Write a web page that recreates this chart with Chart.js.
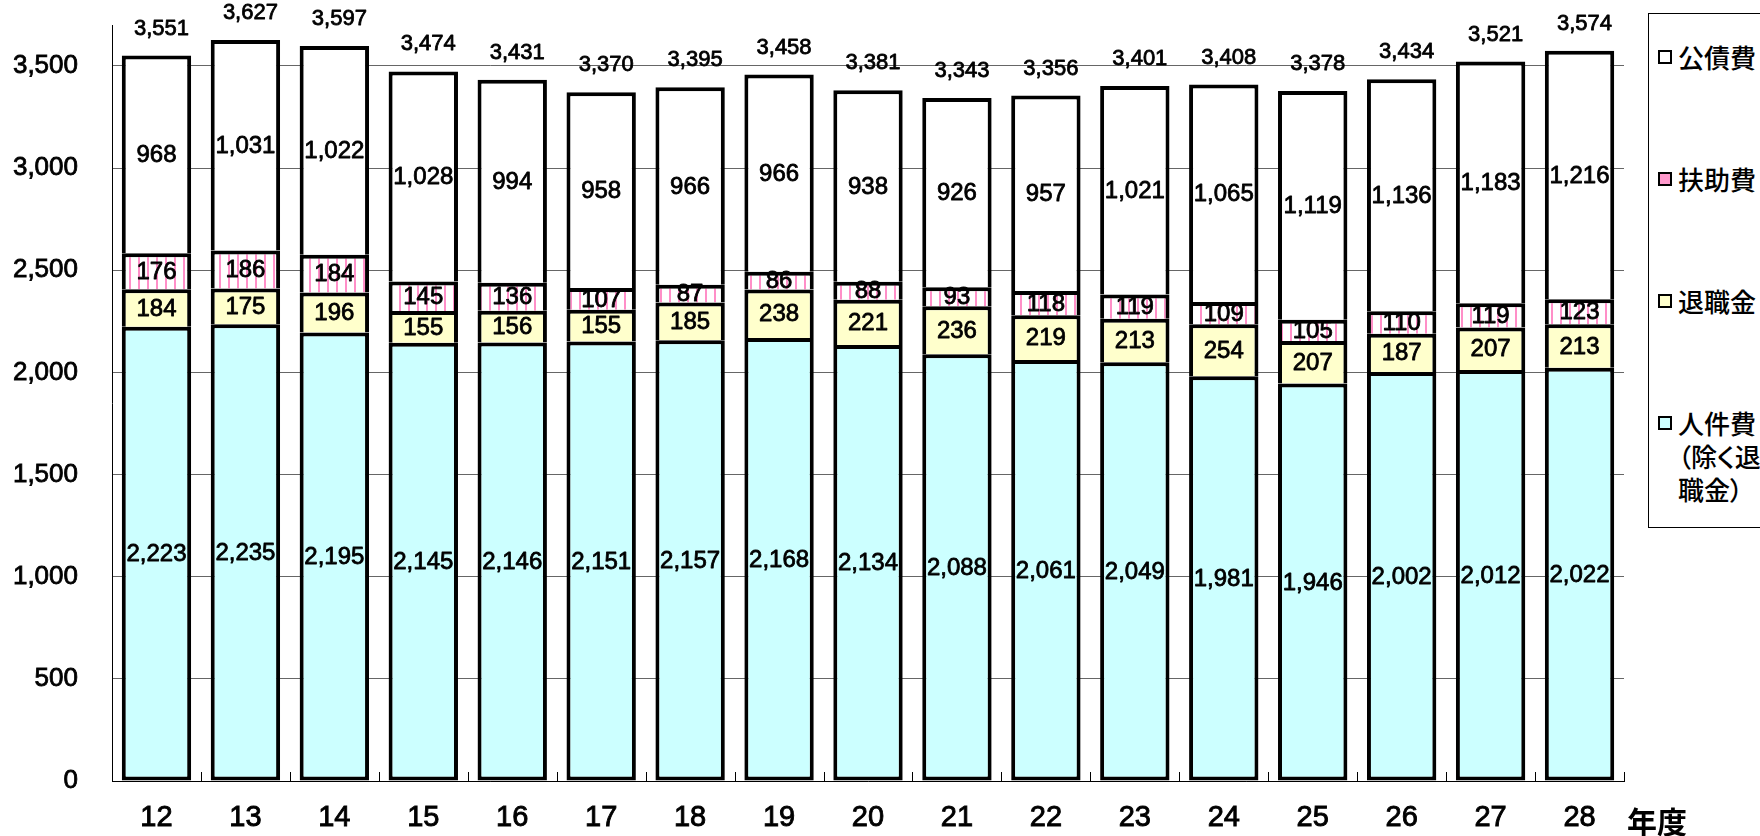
<!DOCTYPE html>
<html><head><meta charset="utf-8">
<script src="https://cdn.jsdelivr.net/npm/chart.js@4"></script>
<style>
html,body{margin:0;padding:0;background:#fff;overflow:hidden;width:1760px;height:836px}
#wrap{position:relative;width:1760px;height:836px}
#legend{position:absolute;left:1648px;top:13px;width:200px;height:513px;border:1px solid #000;background:#fff;
 font-family:"Noto Sans CJK JP",sans-serif;font-size:26px;font-weight:500;color:#000;font-feature-settings:"palt"}
.item{position:absolute;left:9px;line-height:33px}
.mk{position:absolute;left:0;top:10px;width:10px;height:10px;border:2px solid #000}
.tx{position:absolute;left:20px;top:0;white-space:nowrap}
</style>
</head><body><div id="wrap"><canvas id="c" width="1760" height="836"></canvas><div id="legend"></div></div>
<script>
const years = ['12','13','14','15','16','17','18','19','20','21','22','23','24','25','26','27','28'];
const personnel = [2223,2235,2195,2145,2146,2151,2157,2168,2134,2088,2061,2049,1981,1946,2002,2012,2022];
const retirement = [184,175,196,155,156,155,185,238,221,236,219,213,254,207,187,207,213];
const welfare = [176,186,184,145,136,107,87,86,88,93,118,119,109,105,110,119,123];
const debt = [968,1031,1022,1028,994,958,966,966,938,926,957,1021,1065,1119,1136,1183,1216];
const totals = [3551,3627,3597,3474,3431,3370,3395,3458,3381,3343,3356,3401,3408,3378,3434,3521,3574];
const yTicks = [0,500,1000,1500,2000,2500,3000,3500];
const seriesNames = ['人件費（除く退職金）','退職金','扶助費','公債費'];
const legendLines = [['人件費','（除く退','職金）'],['退職金'],['扶助費'],['公債費']];
const axisUnit = '年度';
const yMax = 3700;

const fmt = v => Number(v).toLocaleString('en-US');
const NUMFONT = '"Liberation Sans", Arial, sans-serif';

// striped pattern for 扶助費
const pc = document.createElement('canvas'); pc.width = 9; pc.height = 4;
const pctx = pc.getContext('2d');
pctx.fillStyle = '#ffffff'; pctx.fillRect(0,0,9,4);
pctx.fillStyle = '#ff8fc8'; pctx.fillRect(3,0,2,4);
const ctx = document.getElementById('c').getContext('2d');
const stripe = ctx.createPattern(pc,'repeat');

const fills = ['#ccffff','#ffffcc',stripe,'#ffffff'];
const markerFills = ['#ccffff','#ffffcc','#ff99cc','#ffffff'];
const series = [personnel,retirement,welfare,debt];

function heavyText(c, t, x, y){
  c.fillText(t, x, y);
  c.strokeText(t, x, y);
}

const labelPlugin = {
  id:'labels',
  afterDatasetsDraw(chart){
    const c = chart.ctx;
    c.save();
    c.fillStyle = '#000'; c.strokeStyle = '#000'; c.lineWidth = 0.8; c.lineJoin = 'round';
    c.textAlign = 'center'; c.textBaseline = 'middle';
    c.font = '24px ' + NUMFONT;
    chart.data.datasets.forEach((ds,di)=>{
      const meta = chart.getDatasetMeta(di);
      meta.data.forEach((el,i)=>{
        heavyText(c, fmt(ds.data[i]), el.x, (el.y + el.base)/2 + 1);
      });
    });
    const top = chart.getDatasetMeta(chart.data.datasets.length-1);
    c.font = '22px ' + NUMFONT;
    top.data.forEach((el,i)=>{
      heavyText(c, fmt(totals[i]), el.x + 5, el.y - 27);
    });
    // x axis inner tick marks at category boundaries
    const xs = chart.scales.x, ya = chart.scales.y;
    const n = chart.data.labels.length, w = (xs.right - xs.left)/n;
    c.lineWidth = 1;
    for(let i=1;i<=n;i++){
      const x = Math.round(xs.left + i*w) + 0.5;
      c.beginPath(); c.moveTo(x, ya.bottom); c.lineTo(x, ya.bottom - 9); c.stroke();
    }
    // unit label
    c.font = 'bold 30px "Noto Sans CJK JP", sans-serif';
    c.textAlign = 'left';
    c.fillText(axisUnit, xs.right + 3, xs.top + 41);
    c.restore();
  }
};

new Chart(ctx,{
  type:'bar',
  data:{labels:years,datasets:series.map((d,i)=>({
    label:seriesNames[i], data:d, backgroundColor:fills[i], borderColor:'#000', borderWidth:4,
    borderSkipped: i===0 ? false : 'bottom'
  }))},
  options:{
    responsive:false, animation:false, devicePixelRatio:1,
    layout:{padding:{left:0,right:136,top:25,bottom:0}},
    datasets:{bar:{categoryPercentage:1,barPercentage:0.78}},
    plugins:{legend:{display:false},tooltip:{enabled:false}},
    scales:{
      x:{stacked:true, grid:{display:false}, border:{display:true,color:'#000',width:1},
         ticks:{color:'#000',font:{family:NUMFONT,size:29},textStrokeColor:'#000',textStrokeWidth:0.9,padding:12,maxRotation:0},
         afterFit(s){s.height=55; s.paddingLeft=0; s.paddingRight=0;}},
      y:{stacked:true, min:0, max:yMax,
         afterBuildTicks(s){ s.ticks = yTicks.map(v=>({value:v})); },
         ticks:{color:'#000', font:{family:NUMFONT,size:26}, textStrokeColor:'#000',textStrokeWidth:0.8, padding:34,
                callback:v=>fmt(v)},
         grid:{color:'#666',drawTicks:false}, border:{display:true,color:'#000',width:1},
         afterFit(s){s.width=112; s.paddingTop=0; s.paddingBottom=0;}}
    }
  },
  plugins:[labelPlugin]
});

// legend (reverse order, top = 公債費)
const lg = document.getElementById('legend');
for(let k=0;k<4;k++){
  const di = 3-k;
  const it = document.createElement('div'); it.className='item';
  it.style.top = (25.5 + k*122.3) + 'px';
  const mk = document.createElement('span'); mk.className='mk'; mk.style.background = markerFills[di];
  const tx = document.createElement('div'); tx.className='tx';
  tx.innerHTML = legendLines[di].join('<br>');
  it.appendChild(mk); it.appendChild(tx); lg.appendChild(it);
}
</script></body></html>
